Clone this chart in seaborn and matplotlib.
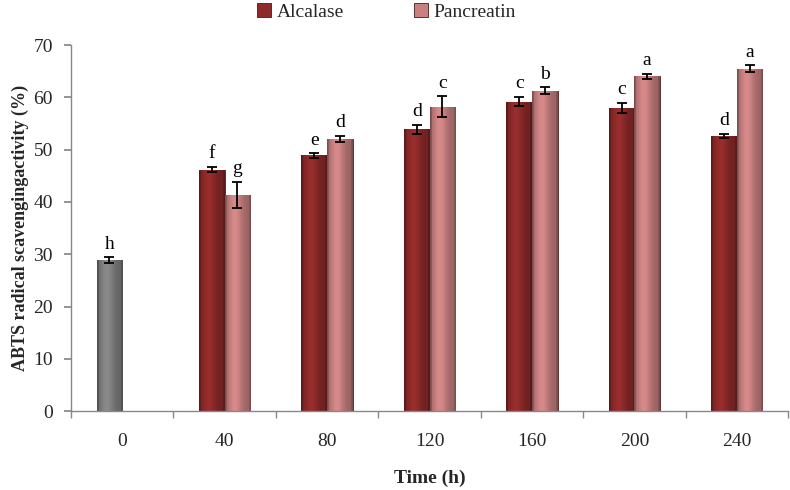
import matplotlib
matplotlib.use("Agg")
import matplotlib.pyplot as plt
import matplotlib.colors as mcolors
import seaborn as sns
import pandas as pd
import numpy as np
from matplotlib.ticker import FixedLocator

times = ["0", "40", "80", "120", "160", "200", "240"]
alcalase = [28.9, 46.2, 48.9, 53.9, 59.2, 58.0, 52.6]
alcalase_err = [0.5, 0.5, 0.4, 0.9, 0.9, 0.9, 0.4]
alcalase_letters = ["h", "f", "e", "d", "c", "c", "d"]
pancreatin = [None, 41.3, 52.0, 58.2, 61.3, 64.0, 65.5]
pancreatin_err = [None, 2.5, 0.6, 2.0, 0.6, 0.5, 0.6]
pancreatin_letters = [None, "g", "d", "c", "b", "a", "a"]
enzymes = ["Alcalase", "Pancreatin"]

rows = []
for i, t in enumerate(times):
    rows.append(dict(time=t, enzyme="Alcalase", value=alcalase[i], err=alcalase_err[i], letter=alcalase_letters[i]))
    if pancreatin[i] is not None:
        rows.append(dict(time=t, enzyme="Pancreatin", value=pancreatin[i], err=pancreatin_err[i], letter=pancreatin_letters[i]))
df = pd.DataFrame(rows)

sns.set_theme(style="white")
SERIF = ["Liberation Serif", "DejaVu Serif"]
plt.rcParams["font.family"] = SERIF

fig = plt.figure(figsize=(7.9, 4.9), dpi=100)
ax = fig.add_axes([0.0899, 0.161, 0.9076, 0.747])

colors = {"Alcalase": "#8E2A2A", "Pancreatin": "#C88080"}
sns.barplot(data=df, x="time", y="value", hue="enzyme", order=times, hue_order=enzymes,
            palette=colors, width=0.5, gap=0, errorbar=None, ax=ax, legend=True,
            edgecolor="#4a1a1a", linewidth=0.6, saturation=1)


def shade(bar, base):
    rgb = np.array(mcolors.to_rgb(base))
    t = np.linspace(0, 1, 60)
    prof = 0.78 + 0.30 * np.exp(-((t - 0.38) / 0.28) ** 2)
    prof = np.where(t < 0.06, 0.62, prof)
    prof = np.where(t > 0.94, 0.62, prof)
    img = np.clip(rgb[None, :] * prof[:, None], 0, 1)[None, :, :]
    x0, w, h = bar.get_x(), bar.get_width(), bar.get_height()
    im = ax.imshow(img, extent=(x0, x0 + w, 0, h), aspect="auto", zorder=bar.get_zorder() + 0.05,
                   interpolation="bilinear")
    im.set_clip_path(bar)


bar_conts = list(ax.containers)
for ci, cont in enumerate(bar_conts):
    enz = enzymes[ci]
    sub = df[df.enzyme == enz]
    for bar in cont:
        h = bar.get_height()
        if np.isnan(h):
            continue
        xc = bar.get_x() + bar.get_width() / 2
        idx = int(round(xc))
        r = sub[sub.time == times[idx]]
        if r.empty:
            continue
        r = r.iloc[0]
        base = colors[enz]
        if enz == "Alcalase" and times[idx] == "0":
            base = "#808080"
            bar.set_facecolor(base)
            bar.set_edgecolor("#3a3a3a")
        shade(bar, base)
        ax.errorbar(xc, r.value, yerr=r.err, fmt="none", ecolor="black", elinewidth=1.3,
                    capsize=3.5, capthick=1.3, zorder=5)
        ax.text(xc, r.value + r.err + 0.9, r.letter, ha="center", va="bottom",
                fontsize=14, color="black", family=SERIF)

ax.set_ylim(0, 70)
ax.set_xlim(-0.5, 6.5)
ax.set_yticks(range(0, 71, 10))
ax.tick_params(axis="y", which="major", length=5, direction="out", color="#888888",
               labelsize=14, left=True, pad=8)
ax.tick_params(axis="x", which="major", length=0, labelsize=14, pad=16)
ax.xaxis.set_minor_locator(FixedLocator(np.arange(-0.5, 7, 1.0)))
ax.tick_params(axis="x", which="minor", length=5, direction="out", color="#888888", bottom=True)

for s in ["top", "right"]:
    ax.spines[s].set_visible(False)
for s in ["left", "bottom"]:
    ax.spines[s].set_color("#888888")
    ax.spines[s].set_linewidth(1.0)

ax.set_xlabel("Time (h)", fontsize=14, fontweight="bold", labelpad=14, family=SERIF)
ax.set_ylabel("ABTS radical scavengingactivity (%)", fontsize=13, fontweight="bold", labelpad=3,
              family=SERIF)

ax.legend(loc="center", bbox_to_anchor=(0.44, 1.09), ncol=2, frameon=False,
          prop=dict(family=SERIF, size=14), columnspacing=3.6, handlelength=0.7,
          handleheight=0.7, handletextpad=0.3)

fig.savefig("out.png", dpi=100)
